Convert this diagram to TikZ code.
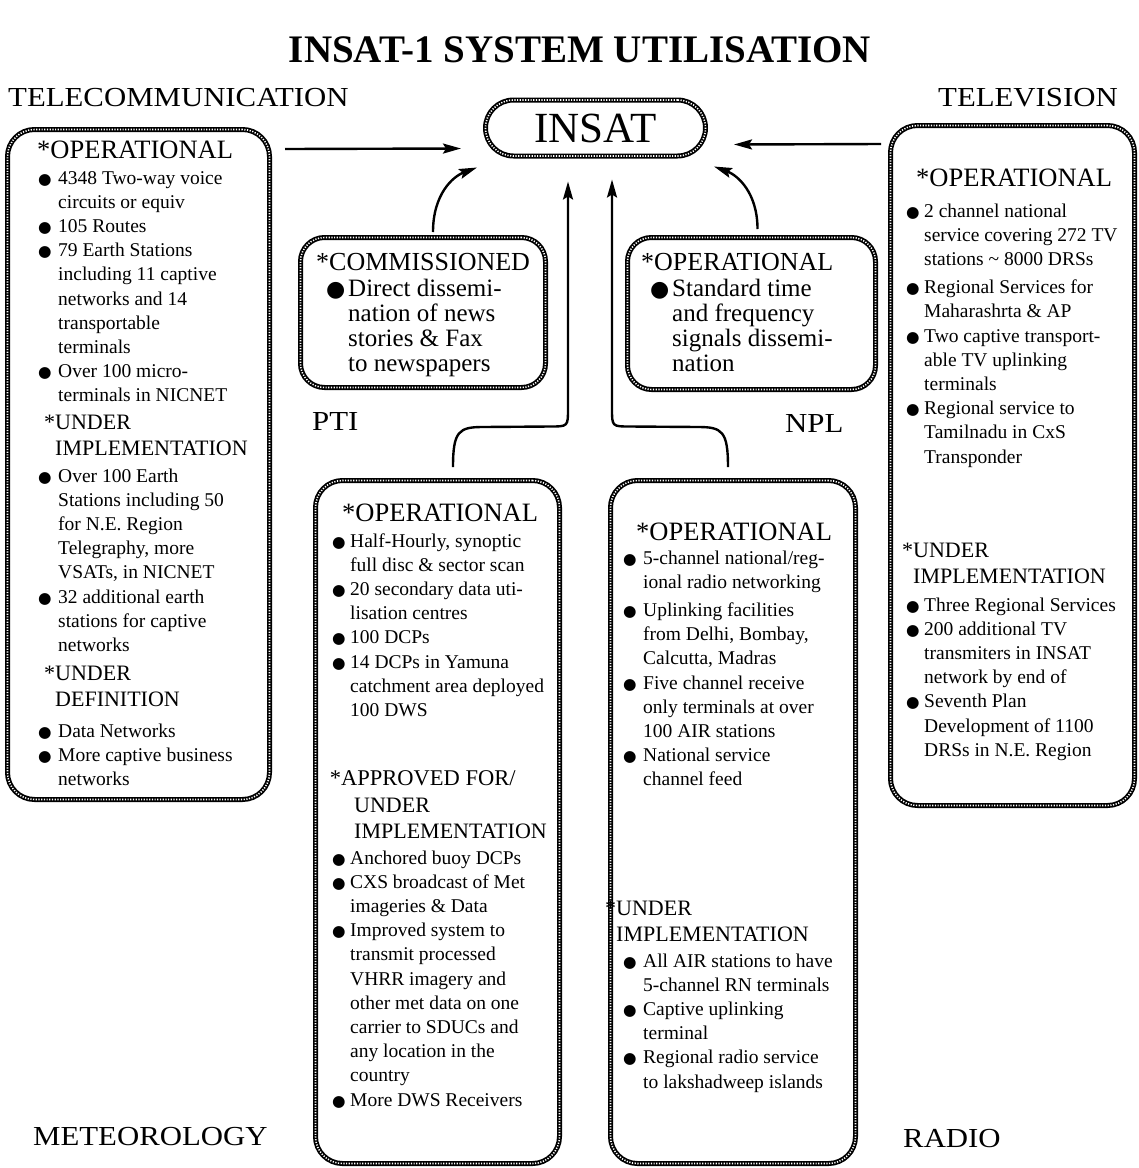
\documentclass[tikz,border=0pt]{standalone}
\usepackage{fontspec}
\setmainfont{Liberation Serif}
\newfontfamily\dvs{DejaVu Sans}
\newfontfamily\wide{Liberation Serif}[FakeStretch=1.12]
\usetikzlibrary{calc,arrows.meta}
\newlength{\bw}
\setlength{\bw}{20pt}
\newcommand{\bul}{{\dvs\fontsize{15.5}{15}\selectfont ●}}
\newcommand{\bigbul}{{\dvs\fontsize{22}{22}\selectfont ●}}
\newcommand{\B}{\makebox[\bw][l]{\bul}}
\newcommand{\BB}{\makebox[\bw][l]{\bigbul}}
\newcommand{\C}{\hspace*{\bw}}
\newcommand{\Lines}[1]{\begin{tabular}[t]{@{}l@{}}#1\end{tabular}}
\begin{document}
\begin{tikzpicture}[x=1pt,y=-1pt,
  frame/.style={draw, line width=5pt, rounded corners=27pt, inner sep=0pt,
    postaction={draw, white, line width=1.6pt, dash pattern=on 1.2pt off 1.5pt}},
  body/.style={anchor=base west, inner sep=0pt, font=\fontsize{19.5}{24.2}\selectfont},
  pbody/.style={anchor=base west, inner sep=0pt, font=\fontsize{25}{25.2}\selectfont},
  hd/.style={anchor=base west, inner sep=0pt, font=\fontsize{26.5}{26.5}\selectfont},
  phd/.style={anchor=base west, inner sep=0pt, font=\fontsize{26}{26}\selectfont},
  hdb/.style={anchor=base west, inner sep=0pt, font=\fontsize{22}{26.5}\selectfont},
  cat/.style={anchor=base west, inner sep=0pt, font=\wide\fontsize{27.5}{27.5}\selectfont},
  arr/.style={line width=2.4pt, -{Stealth[length=18pt,width=10pt,inset=3pt]}}
]
\useasboundingbox (0,0) rectangle (1139,1168);

% title and labels
\node[anchor=base, inner sep=0pt, font=\bfseries\fontsize{39}{39}\selectfont] (title) at (580,62) {INSAT-1 SYSTEM UTILISATION};
\node[cat] (labtel) at (8,106) {TELECOMMUNICATION};
\node[cat] (labtv) at (938,106) {TELEVISION};
\node[cat] (labpti) at (312,430) {PTI};
\node[cat] (labnpl) at (785,432) {NPL};
\node[cat] (labmet) at (33,1145) {METEOROLOGY};
\node[cat] (labrad) at (903,1147) {RADIO};

% boxes
\node[frame, rounded corners=28pt, minimum width=220pt, minimum height=56pt, font=\fontsize{43}{43}\selectfont] (insat) at (595.5,128) {INSAT};
\node[frame, minimum width=262pt, minimum height=670pt] (tel) at (138.5,464.5) {};
\node[frame, minimum width=244pt, minimum height=680pt] (tv) at (1012.5,465.5) {};
\node[frame, rounded corners=24pt, minimum width=245pt, minimum height=150pt] (pti) at (423,312.5) {};
\node[frame, rounded corners=24pt, minimum width=248pt, minimum height=152pt] (npl) at (751.5,313.5) {};
\node[frame, minimum width=244pt, minimum height=683pt] (met) at (437.5,822) {};
\node[frame, minimum width=245pt, minimum height=683pt] (rad) at (733,822) {};

% telecommunication text
\node[hd] (telh1) at (37,158) {*OPERATIONAL};
\node[body] (tell1) at (38,184) {\Lines{\B 4348 Two-way voice\\ \C circuits or equiv\\ \B 105 Routes\\ \B 79 Earth Stations\\ \C including 11 captive\\ \C networks and 14\\ \C transportable\\ \C terminals\\ \B Over 100 micro-\\ \C terminals in NICNET}};
\node[hdb] (telh2) at (55,429) {\Lines{\llap{*}UNDER\\IMPLEMENTATION}};
\node[body] (tell2) at (38,482) {\Lines{\B Over 100 Earth\\ \C Stations including 50\\ \C for N.E. Region\\ \C Telegraphy, more\\ \C VSATs, in NICNET\\ \B 32 additional earth\\ \C stations for captive\\ \C networks}};
\node[hdb] (telh3) at (55,680) {\Lines{\llap{*}UNDER\\DEFINITION}};
\node[body] (tell3) at (38,737) {\Lines{\B Data Networks\\ \B More captive business\\ \C networks}};

% television text
\node[hd] (tvh1) at (916,186) {*OPERATIONAL};
\node[body] (tvl1) at (906,217) {\setlength{\bw}{18pt}\Lines{\B 2 channel national\\ \C service covering 272 TV\\ \C stations \textasciitilde{} 8000 DRSs\\[4pt] \B Regional Services for\\ \C Maharashrta \& AP\\ \B Two captive transport-\\ \C able TV uplinking\\ \C terminals\\ \B Regional service to\\ \C Tamilnadu in CxS\\ \C Transponder}};
\node[hdb] (tvh2) at (913,557) {\Lines{\llap{*}UNDER\\IMPLEMENTATION}};
\node[body] (tvl2) at (906,611) {\setlength{\bw}{18pt}\Lines{\B Three Regional Services\\ \B 200 additional TV\\ \C transmiters in INSAT\\ \C network by end of\\ \B Seventh Plan\\ \C Development of 1100\\ \C DRSs in N.E. Region}};

% PTI text
\node[phd] (ptih) at (316,270) {*COMMISSIONED};
\node[pbody] (ptil) at (326,296) {\setlength{\bw}{22pt}\Lines{\BB Direct dissemi-\\ \C nation of news\\ \C stories \& Fax\\ \C to newspapers}};

% NPL text
\node[phd] (nplh) at (641,270) {*OPERATIONAL};
\node[pbody] (npll) at (650,296) {\setlength{\bw}{22pt}\Lines{\BB Standard time\\ \C and frequency\\ \C signals dissemi-\\ \C nation}};

% meteorology text
\node[hd] (meth1) at (342,521) {*OPERATIONAL};
\node[body] (metl1) at (332,547) {\setlength{\bw}{18pt}\Lines{\B Half-Hourly, synoptic\\ \C full disc \& sector scan\\ \B 20 secondary data uti-\\ \C lisation centres\\ \B 100 DCPs\\ \B 14 DCPs in Yamuna\\ \C catchment area deployed\\ \C 100 DWS}};
\node[hdb, font=\fontsize{22.5}{26.5}\selectfont] (meth2a) at (341,785) {\llap{*}APPROVED FOR/};
\node[hdb] (meth2b) at (354,812) {\Lines{UNDER\\IMPLEMENTATION}};
\node[body] (metl2) at (332,864) {\setlength{\bw}{18pt}\Lines{\B Anchored buoy DCPs\\ \B CXS broadcast of Met\\ \C imageries \& Data\\ \B Improved system to\\ \C transmit processed\\ \C VHRR imagery and\\ \C other met data on one\\ \C carrier to SDUCs and\\ \C any location in the\\ \C country\\ \B More DWS Receivers}};

% radio text
\node[hd] (radh1) at (636,540) {*OPERATIONAL};
\node[body] (radl1) at (623,564) {\Lines{\B 5-channel national/reg-\\ \C ional radio networking\\[4pt] \B Uplinking facilities\\ \C from Delhi, Bombay,\\ \C Calcutta, Madras\\ \B Five channel receive\\ \C only terminals at over\\ \C 100 AIR stations\\ \B National service\\ \C channel feed}};
\node[hdb] (radh2) at (616,915) {\Lines{\llap{*}UNDER\\IMPLEMENTATION}};
\node[body] (radl2) at (623,967) {\Lines{\B All AIR stations to have\\ \C 5-channel RN terminals\\ \B Captive uplinking\\ \C terminal\\ \B Regional radio service\\ \C to lakshadweep islands}};

% connectors
\draw[arr] ($(tel.north east)+(13,22)$) -- ($(insat.south west)+(-22,-10)$);
\draw[arr] ($(tv.north west)+(-7,21)$) -- ($(insat.south east)+(26,-14)$);

\coordinate (ps) at ($(pti.north)+(10,-3)$);
\coordinate (pe) at ($(insat.south west)+(-6,9)$);
\draw[arr] (ps) .. controls ($(ps)+(0,-38)$) and ($(pe)+(-24,9)$) .. (pe);

\coordinate (ns) at ($(npl.north)+(6,-6)$);
\coordinate (ne) at ($(insat.south east)+(6,8)$);
\draw[arr] (ns) .. controls ($(ns)+(0,-36)$) and ($(ne)+(24,9)$) .. (ne);

\coordinate (ms) at ($(met.north)+(15.5,-11)$);
\coordinate (me) at ($(insat.south)+(-27.5,23)$);
\draw[arr] (ms) .. controls ($(ms)+(0,-36)$) and ($(ms)+(6,-40)$) .. ($(ms)+(30,-40)$)
  -- ($(me)+(-18,245)$) .. controls ($(me)+(0,245)$) .. ($(me)+(0,227)$) -- (me);

\coordinate (rs) at ($(rad.north)+(-5,-11)$);
\coordinate (re) at ($(insat.south)+(16.5,21)$);
\draw[arr] (rs) .. controls ($(rs)+(0,-36)$) and ($(rs)+(-6,-40)$) .. ($(rs)+(-30,-40)$)
  -- ($(re)+(18,247)$) .. controls ($(re)+(0,247)$) .. ($(re)+(0,229)$) -- (re);
\end{tikzpicture}
\end{document}
